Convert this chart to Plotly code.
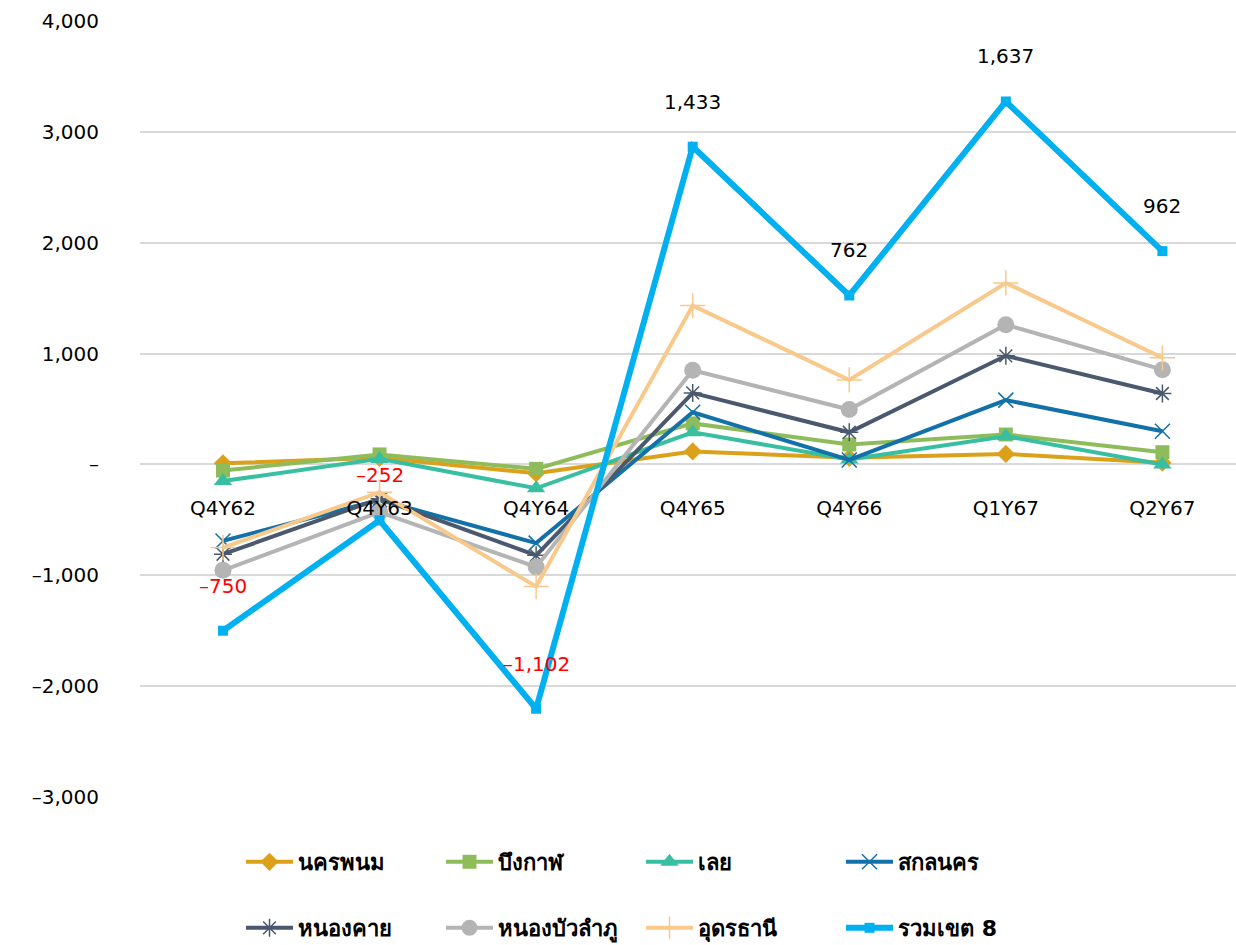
import numpy as np
import plotly.graph_objects as go

categories = ["Q4Y62", "Q4Y63", "Q4Y64", "Q4Y65", "Q4Y66", "Q1Y67", "Q2Y67"]

# individual values per province (chart is an Excel-style stacked line chart)
nakhon_phanom = [10, 60, -80, 117, 60, 95, 15]
bueng_kan = [-65, 30, 40, 253, 120, 175, 95]
loei = [-95, -40, -175, -80, -135, -15, -110]
sakon_nakhon = [-540, -370, -495, 180, -5, 325, 300]
nong_khai = [-120, 10, -110, 175, 250, 400, 340]
nong_bua_lamphu = [-145, -120, -105, 205, 205, 280, 215]
udon_thani = [205, 178, -177, 583, 267, 377, 107]
total_region8 = [-750, -252, -1102, 1433, 762, 1637, 962]
total_labels = ["–750", "–252", "–1,102", "1,433", "762", "1,637", "962"]

y_tickvals = [-3000, -2000, -1000, 0, 1000, 2000, 3000, 4000]
y_ticktext = ["–3,000", "–2,000", "–1,000", "–", "1,000", "2,000", "3,000", "4,000"]

FONT = "DejaVu Sans, Noto Sans, sans-serif"

series = [
    ("นครพนม", nakhon_phanom, "#DBA11A", "diamond", 14, "legend"),
    ("บึงกาฬ", bueng_kan, "#8FBC5A", "square", 14, "legend"),
    ("เลย", loei, "#38BFA1", "triangle-up", 16, "legend"),
    ("สกลนคร", sakon_nakhon, "#1271A8", "x-thin-open", 15, "legend"),
    ("หนองคาย", nong_khai, "#4A596E", "asterisk-open", 15, "legend2"),
    ("หนองบัวลำภู", nong_bua_lamphu, "#B4B4B4", "circle", 17, "legend2"),
    ("อุดรธานี", udon_thani, "#F8C98B", "cross-thin-open", 18, "legend2"),
]

fig = go.Figure()
for name, vals, color, sym, size, leg in series:
    open_sym = sym.endswith("open")
    fig.add_trace(go.Scatter(
        x=categories, y=vals, name=name, stackgroup="one", fill="none",
        mode="lines+markers",
        line=dict(color=color, width=4),
        marker=dict(symbol=sym, size=size, color=color,
                    line=dict(color=color, width=1.5 if open_sym else 0)),
        legend=leg,
    ))

fig.add_trace(go.Scatter(
    x=categories, y=total_region8, name="รวมเขต 8", stackgroup="one", fill="none",
    mode="lines+markers",
    line=dict(color="#00B0F0", width=6),
    marker=dict(symbol="square", size=10, color="#00B0F0"),
    legend="legend2",
))

# label positions follow the stacked total line
stack_top = np.sum([s[1] for s in series], axis=0) + np.array(total_region8)
for cat, yv, lab, v in zip(categories, stack_top, total_labels, total_region8):
    fig.add_annotation(x=cat, y=yv, text=lab, showarrow=False, yshift=45,
                       font=dict(size=20, color="#FF0000" if v < 0 else "#000000", family=FONT))

legend_common = dict(orientation="h", entrywidth=138, entrywidthmode="pixels",
                     xref="container", yref="container", xanchor="left", yanchor="middle",
                     font=dict(size=22, color="#000000", family=FONT, weight="bold"),
                     bgcolor="rgba(0,0,0,0)", itemwidth=47, tracegroupgap=0)

fig.update_layout(
    width=1236, height=945,
    margin=dict(l=140, r=0, t=21, b=148),
    paper_bgcolor="white", plot_bgcolor="white",
    font=dict(family=FONT, size=20, color="#000000"),
    xaxis=dict(type="category", range=[-0.53, 6.47], anchor="free", position=3/7,
               showgrid=False, showline=False, zeroline=False, ticks="",
               automargin=False,
               ticklabelstandoff=30, tickfont=dict(size=20, family=FONT)),
    yaxis=dict(range=[-3000, 4000], tickvals=y_tickvals, ticktext=y_ticktext,
               showgrid=True, gridcolor="#D9D9D9", gridwidth=2,
               zeroline=True, zerolinecolor="#D9D9D9", zerolinewidth=2,
               showline=False, ticks="", ticklabelstandoff=40, automargin=False,
               tickfont=dict(size=20, family=FONT)),
    legend=dict(x=241/1236, y=1 - 862/945, **legend_common),
    legend2=dict(x=241/1236, y=1 - 928/945, **legend_common),
    showlegend=True,
)

fig.write_html("out.html", config={"displayModeBar": False},
               post_script="document.body.style.margin='0';document.body.style.overflow='hidden';")
